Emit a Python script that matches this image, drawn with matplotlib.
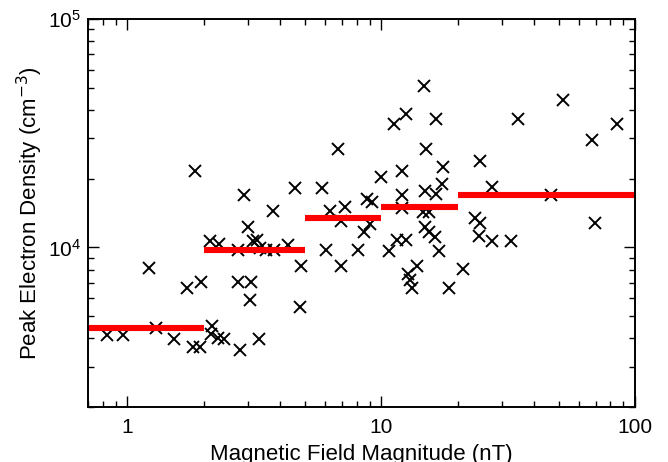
import numpy as np
import matplotlib
matplotlib.use('Agg')
import matplotlib.pyplot as plt
from matplotlib.ticker import FuncFormatter, LogLocator

plt.rcParams['font.family'] = ['Liberation Sans', 'DejaVu Sans']

# field magnitude (nT) and peak electron density (cm^-3) of each event
b_field = [0.83, 0.96, 1.22, 1.30, 1.53, 1.72, 1.85, 1.96, 1.81, 1.93,
           2.15, 2.14, 2.27, 2.41, 2.12, 2.29, 2.77, 2.74, 3.07, 3.03,
           3.29, 2.73, 3.12, 3.23, 3.32, 3.53, 3.80, 4.29, 3.00, 2.88,
           3.74, 4.58, 4.85, 4.79, 5.84, 6.08, 6.26, 6.75, 6.97, 6.92,
           7.21, 8.10, 8.53, 9.01, 8.77, 9.23, 10.0, 10.7, 11.5, 12.5,
           12.1, 12.1, 12.1, 11.2, 12.5, 14.8, 16.5, 15.0, 17.6, 17.3,
           14.9, 16.5, 14.6, 15.5, 14.9, 15.5, 16.3, 16.9, 13.8, 12.8,
           13.0, 13.2, 18.5, 21.0, 23.4, 24.6, 24.3, 27.4, 32.5, 24.6,
           27.4, 34.5, 52.2, 85.2, 67.9, 46.6, 69.6]
density = [4140, 4140, 8100, 4450, 3990, 6630, 21700, 7020, 3660, 3660,
           4510, 4180, 4010, 3990, 10650, 10380, 3550, 7020, 7020, 5860,
           3990, 9740, 10700, 10750, 9920, 9740, 9740, 10280, 12240, 16990,
           14500, 18240, 8310, 5490, 18240, 9740, 14500, 27050, 8310, 13100,
           15090, 9740, 11640, 12670, 16320, 15760, 20300, 9670, 10750, 10750,
           21700, 16990, 14940, 34600, 38500, 50800, 36400, 27050, 22450, 18950,
           17740, 17120, 14240, 14240, 12240, 11640, 11060, 9670, 8310, 7630,
           7210, 6610, 6610, 8030, 13460, 12750, 11260, 10620, 10620, 23860,
           18340, 36400, 44400, 34800, 29400, 16990, 12750]

# binned means
bin_edges = [0.7, 2, 5, 10, 20, 100]
bin_means = [4450, 9740, 13400, 15100, 17000]

fig = plt.figure(figsize=(6.68, 4.62), dpi=100)
ax = fig.add_axes([0.1317, 0.119, 0.8189, 0.8398])

ax.plot(b_field, density, 'x', color='black', markersize=9, markeredgewidth=1.4)
for i in range(len(bin_means)):
    ax.plot([bin_edges[i], bin_edges[i+1]], [bin_means[i], bin_means[i]],
            color='red', linewidth=4.4, solid_capstyle='butt')

ax.set_xscale('log')
ax.set_yscale('log')
ax.set_xlim(0.7, 100)
ax.set_ylim(2000, 1e5)

ax.xaxis.set_major_formatter(FuncFormatter(lambda v, p: '%g' % v))
ax.yaxis.set_major_locator(LogLocator(base=10, numticks=10))
ax.tick_params(which='both', direction='in', top=True, right=True, width=1.0,
               labelsize=15, colors='black')
ax.tick_params(which='major', length=8)
ax.tick_params(which='minor', length=4.5)
ax.tick_params(axis='x', pad=8)
ax.tick_params(axis='y', pad=5)
for s in ax.spines.values():
    s.set_linewidth(1.4)

ax.set_xlabel('Magnetic Field Magnitude (nT)', fontsize=16, labelpad=5)
ax.set_ylabel('Peak Electron Density (cm$^{-3}$)', fontsize=16, labelpad=2)

fig.savefig('out.png', dpi=100)
